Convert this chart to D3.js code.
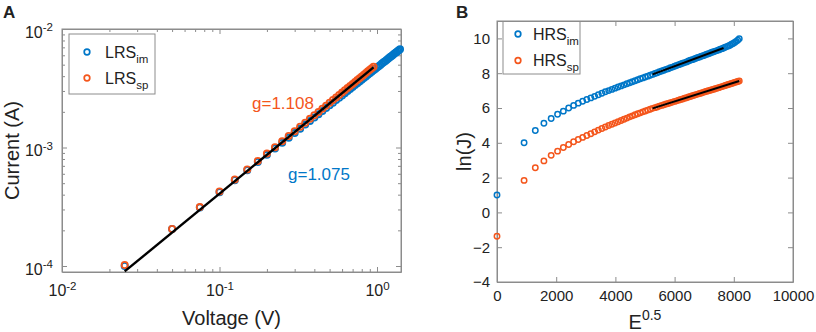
<!DOCTYPE html>
<html>
<head>
<meta charset="utf-8">
<script src="https://cdn.jsdelivr.net/npm/d3@7"></script>
<style>
  body { margin: 0; background: #fff; }
  svg { display: block; font-family: "Liberation Sans", Arial, sans-serif; }
</style>
</head>
<body>
<script>
// ---- panel A : log-log I-V (LRS) ----
var voltage = [0.025, 0.05, 0.075, 0.1, 0.125, 0.15, 0.175, 0.2, 0.225, 0.25,
  0.275, 0.3, 0.325, 0.35, 0.375, 0.4, 0.425, 0.45, 0.475, 0.5,
  0.525, 0.55, 0.575, 0.6, 0.625, 0.65, 0.675, 0.7, 0.725, 0.75,
  0.775, 0.8, 0.825, 0.85, 0.875, 0.9, 0.925, 0.95, 0.975, 1.0,
  1.025, 1.05, 1.075, 1.1, 1.125, 1.15, 1.175, 1.2, 1.225, 1.25,
  1.275, 1.3, 1.325, 1.35, 1.375, 1.4];
// currents in mA
var currentIm = [0.100, 0.205, 0.312, 0.420, 0.530, 0.642, 0.754, 0.867, 0.981, 1.095,
  1.210, 1.327, 1.443, 1.560, 1.677, 1.795, 1.912, 2.032, 2.151, 2.270,
  2.390, 2.511, 2.632, 2.753, 2.874, 2.996, 3.118, 3.240, 3.363, 3.485,
  3.608, 3.731, 3.855, 3.979, 4.104, 4.227, 4.351, 4.476, 4.602, 4.727,
  4.852, 4.977, 5.105, 5.231, 5.356, 5.483, 5.609, 5.735, 5.861, 5.990,
  6.117, 6.245, 6.373, 6.501, 6.630, 6.756];
var currentSp = [0.102, 0.205, 0.314, 0.425, 0.538, 0.653, 0.770, 0.888, 1.007, 1.127,
  1.249, 1.372, 1.495, 1.620, 1.745, 1.871, 1.998, 2.127, 2.255, 2.384,
  2.514, 2.644, 2.776, 2.907, 3.040, 3.173, 3.306, 3.441, 3.576, 3.710,
  3.846, 3.982, 4.119, 4.256, 4.395, 4.533, 4.671, 4.811];
var fitAV = [0.025, 0.95];
var fitAI = [0.090, 4.74];

var xMajorA = [0.01, 0.1, 1];
var xMinorA = [0.02, 0.03, 0.04, 0.05, 0.06, 0.07, 0.08, 0.09,
  0.2, 0.3, 0.4, 0.5, 0.6, 0.7, 0.8, 0.9];
var yMajorA = [1e-4, 1e-3, 1e-2];
var yMinorA = [2e-4, 3e-4, 4e-4, 5e-4, 6e-4, 7e-4, 8e-4, 9e-4,
  2e-3, 3e-3, 4e-3, 5e-3, 6e-3, 7e-3, 8e-3, 9e-3];

// ---- panel B : ln(J) vs E^0.5 (HRS) ----
var eSqrt = [0, 915, 1294, 1585, 1830, 2046, 2241, 2421, 2588, 2745,
  2894, 3035, 3170, 3299, 3424, 3544, 3660, 3773, 3882, 3988,
  4092, 4193, 4292, 4388, 4483, 4575, 4666, 4755, 4842, 4928,
  5012, 5095, 5176, 5256, 5335, 5413, 5490, 5566, 5640, 5714,
  5787, 5859, 5930, 6000, 6069, 6138, 6206, 6273, 6339, 6405,
  6470, 6534, 6598, 6661, 6724, 6786, 6847, 6908, 6968, 7028,
  7088, 7146, 7205, 7263, 7320, 7377, 7433, 7490, 7545, 7601,
  7655, 7710, 7764, 7818, 7871, 7924, 7977, 8029, 8081, 8133,
  8184];
var lnJIm = [1.00, 4.00, 4.71, 5.12, 5.40, 5.64, 5.82, 6.00, 6.15, 6.28,
  6.39, 6.49, 6.58, 6.67, 6.76, 6.85, 6.93, 7.00, 7.07, 7.14,
  7.21, 7.27, 7.33, 7.39, 7.45, 7.51, 7.57, 7.62, 7.68, 7.73,
  7.78, 7.83, 7.88, 7.93, 7.98, 8.03, 8.08, 8.13, 8.17, 8.22,
  8.26, 8.31, 8.35, 8.40, 8.44, 8.49, 8.53, 8.57, 8.61, 8.65,
  8.70, 8.74, 8.78, 8.82, 8.86, 8.90, 8.93, 8.97, 9.01, 9.05,
  9.09, 9.12, 9.16, 9.20, 9.23, 9.27, 9.30, 9.34, 9.38, 9.41,
  9.45, 9.49, 9.53, 9.57, 9.61, 9.66, 9.71, 9.77, 9.83, 9.90,
  9.98];
var lnJSp = [-1.37, 1.84, 2.57, 2.96, 3.28, 3.52, 3.73, 3.90, 4.06, 4.19,
  4.31, 4.42, 4.52, 4.63, 4.73, 4.82, 4.91, 4.99, 5.07, 5.14,
  5.21, 5.28, 5.35, 5.42, 5.49, 5.55, 5.61, 5.67, 5.72, 5.78,
  5.83, 5.88, 5.93, 5.98, 6.02, 6.06, 6.11, 6.15, 6.19, 6.23,
  6.26, 6.30, 6.34, 6.38, 6.41, 6.45, 6.49, 6.52, 6.56, 6.59,
  6.63, 6.66, 6.70, 6.73, 6.77, 6.80, 6.83, 6.86, 6.90, 6.93,
  6.96, 6.99, 7.02, 7.05, 7.08, 7.11, 7.14, 7.17, 7.20, 7.23,
  7.26, 7.29, 7.32, 7.35, 7.38, 7.41, 7.44, 7.47, 7.50, 7.52,
  7.55];
var fitImE = [5256, 7655];
var fitImY = [7.93, 9.45];
var fitSpE = [5256, 8184];
var fitSpY = [5.98, 7.55];

var xTicksB = [0, 2000, 4000, 6000, 8000, 10000];
var yTicksB = [-4, -2, 0, 2, 4, 6, 8, 10];

var BLUE = '#0077c8';
var ORANGE = '#f4561c';
var AXIS = '#8c8c8c';
var TEXT = '#222';

var svg = d3.select('body').append('svg')
  .attr('width', 816)
  .attr('height', 332);

function styleAxis(g, fontSize) {
  g.attr('font-family', null).attr('font-size', fontSize);
  g.select('.domain').attr('stroke', AXIS);
  g.selectAll('.tick line').attr('stroke', AXIS);
  g.selectAll('.tick text').attr('fill', TEXT);
}

function powLabels(g) {
  g.selectAll('.tick text').each(function(d) {
    var e = Math.round(Math.log10(d));
    var t = d3.select(this).text('10');
    t.append('tspan').attr('dy', '-0.55em').attr('font-size', '0.72em').text(e);
  });
}

function noDomain(g) {
  g.select('.domain').remove();
}

function box(g, x, y) {
  var r = x.range(), s = y.range();
  g.append('rect')
    .attr('x', r[0]).attr('y', s[1])
    .attr('width', r[1] - r[0]).attr('height', s[0] - s[1])
    .attr('fill', 'none').attr('stroke', AXIS).attr('stroke-width', 1);
}

function scatter(g, xs, ys, x, y, color, rad, sw, conv) {
  g.append('g').selectAll('circle')
    .data(xs.map(function(v, i) { return [v, ys[i]]; }))
    .enter().append('circle')
      .attr('cx', function(d) { return x(d[0]); })
      .attr('cy', function(d) { return y(conv ? conv(d[1]) : d[1]); })
      .attr('r', rad)
      .attr('fill', 'none')
      .attr('stroke', color)
      .attr('stroke-width', sw);
}

function fitLine(g, xs, ys, x, y, width, conv) {
  var line = d3.line()
    .x(function(d) { return x(d[0]); })
    .y(function(d) { return y(conv ? conv(d[1]) : d[1]); });
  g.append('path')
    .datum(xs.map(function(v, i) { return [v, ys[i]]; }))
    .attr('d', line)
    .attr('fill', 'none')
    .attr('stroke', '#000')
    .attr('stroke-width', width);
}

function legend(g, x0, y0, w, h, names, colors, rows) {
  g.append('rect')
    .attr('x', x0).attr('y', y0).attr('width', w).attr('height', h)
    .attr('fill', '#fff').attr('stroke', AXIS);
  names.forEach(function(n, i) {
    g.append('circle')
      .attr('cx', rows.mx).attr('cy', rows.y[i]).attr('r', 2.8)
      .attr('fill', 'none').attr('stroke', colors[i]).attr('stroke-width', 1.7);
    var t = g.append('text')
      .attr('x', rows.tx).attr('y', rows.y[i] + 5.5)
      .attr('font-size', 16).attr('fill', TEXT)
      .text(n[0]);
    t.append('tspan').attr('dy', 5).attr('font-size', 11.5).text(n[1]);
  });
}

function mA(v) { return v / 1000; }

// ================= panel A =================
var xA = d3.scaleLog().domain([0.01, 1.42]).range([62, 401]);
var yA = d3.scaleLog().domain([8.9e-5, 1e-2]).range([272, 29]);
var gA = svg.append('g');

box(gA, xA, yA);

gA.append('g').attr('transform', 'translate(0,272)')
  .call(d3.axisBottom(xA).tickValues(xMajorA).tickSize(-5).tickSizeOuter(0).tickPadding(13))
  .call(styleAxis, 16).call(powLabels);
gA.append('g').attr('transform', 'translate(0,272)')
  .call(d3.axisBottom(xA).tickValues(xMinorA).tickSize(-3).tickFormat(''))
  .call(styleAxis, 16).call(noDomain);
gA.append('g').attr('transform', 'translate(0,29)')
  .call(d3.axisTop(xA).tickValues(xMajorA).tickSize(-5).tickSizeOuter(0).tickFormat(''))
  .call(styleAxis, 16);
gA.append('g').attr('transform', 'translate(0,29)')
  .call(d3.axisTop(xA).tickValues(xMinorA).tickSize(-3).tickFormat(''))
  .call(styleAxis, 16).call(noDomain);

gA.append('g').attr('transform', 'translate(62,0)')
  .call(d3.axisLeft(yA).tickValues(yMajorA).tickSize(-5).tickSizeOuter(0).tickPadding(9))
  .call(styleAxis, 16).call(powLabels)
  .selectAll('.tick text').attr('dy', '0.5em');
gA.append('g').attr('transform', 'translate(62,0)')
  .call(d3.axisLeft(yA).tickValues(yMinorA).tickSize(-3).tickFormat(''))
  .call(styleAxis, 16).call(noDomain);
gA.append('g').attr('transform', 'translate(401,0)')
  .call(d3.axisRight(yA).tickValues(yMajorA).tickSize(-5).tickSizeOuter(0).tickFormat(''))
  .call(styleAxis, 16);
gA.append('g').attr('transform', 'translate(401,0)')
  .call(d3.axisRight(yA).tickValues(yMinorA).tickSize(-3).tickFormat(''))
  .call(styleAxis, 16).call(noDomain);

scatter(gA, voltage, currentIm, xA, yA, BLUE, 3.1, 1.8, mA);
scatter(gA, voltage.slice(0, currentSp.length), currentSp, xA, yA, ORANGE, 3.1, 1.8, mA);
fitLine(gA, fitAV, fitAI, xA, yA, 2.4, mA);

gA.append('text').attr('x', 252).attr('y', 109)
  .attr('font-size', 17).attr('fill', ORANGE).text('g=1.108');
gA.append('text').attr('x', 288).attr('y', 180)
  .attr('font-size', 17).attr('fill', BLUE).text('g=1.075');

legend(gA, 69, 34, 86, 60, [['LRS', 'im'], ['LRS', 'sp']], [BLUE, ORANGE],
  {mx: 87, tx: 105, y: [52, 78]});

gA.append('text').attr('x', 231.5).attr('y', 325)
  .attr('text-anchor', 'middle').attr('font-size', 20).attr('fill', TEXT)
  .text('Voltage (V)');
gA.append('text').attr('transform', 'translate(18.5,150.5) rotate(-90)')
  .attr('text-anchor', 'middle').attr('font-size', 20).attr('fill', TEXT)
  .text('Current (A)');
gA.append('text').attr('x', 3).attr('y', 18)
  .attr('font-size', 17).attr('font-weight', 'bold').attr('fill', TEXT)
  .text('A');

// ================= panel B =================
var xB = d3.scaleLinear().domain([0, 10000]).range([497, 793]);
var yB = d3.scaleLinear().domain([-4, 11]).range([282, 21]);
var gB = svg.append('g');

box(gB, xB, yB);

gB.append('g').attr('transform', 'translate(0,282)')
  .call(d3.axisBottom(xB).tickValues(xTicksB).tickSize(-5).tickSizeOuter(0).tickPadding(8)
    .tickFormat(d3.format('d')))
  .call(styleAxis, 15);
gB.append('g').attr('transform', 'translate(0,21)')
  .call(d3.axisTop(xB).tickValues(xTicksB).tickSize(-5).tickSizeOuter(0).tickFormat(''))
  .call(styleAxis, 15);
gB.append('g').attr('transform', 'translate(497,0)')
  .call(d3.axisLeft(yB).tickValues(yTicksB).tickSize(-5).tickSizeOuter(0).tickPadding(7))
  .call(styleAxis, 15);
gB.append('g').attr('transform', 'translate(793,0)')
  .call(d3.axisRight(yB).tickValues(yTicksB).tickSize(-5).tickSizeOuter(0).tickFormat(''))
  .call(styleAxis, 15);

scatter(gB, eSqrt, lnJIm, xB, yB, BLUE, 2.7, 1.5);
scatter(gB, eSqrt, lnJSp, xB, yB, ORANGE, 2.7, 1.5);
fitLine(gB, fitImE, fitImY, xB, yB, 2);
fitLine(gB, fitSpE, fitSpY, xB, yB, 2);

legend(gB, 503, 21.5, 77, 52.5, [['HRS', 'im'], ['HRS', 'sp']], [BLUE, ORANGE],
  {mx: 518, tx: 533, y: [34, 60.5]});

var tB = gB.append('text').attr('x', 645).attr('y', 329)
  .attr('text-anchor', 'middle').attr('font-size', 20).attr('fill', TEXT)
  .text('E');
tB.append('tspan').attr('dy', -9).attr('font-size', 14).text('0.5');
gB.append('text').attr('transform', 'translate(471,151.5) rotate(-90)')
  .attr('text-anchor', 'middle').attr('font-size', 20).attr('fill', TEXT)
  .text('ln(J)');
gB.append('text').attr('x', 456).attr('y', 18)
  .attr('font-size', 17).attr('font-weight', 'bold').attr('fill', TEXT)
  .text('B');
</script>
</body>
</html>
